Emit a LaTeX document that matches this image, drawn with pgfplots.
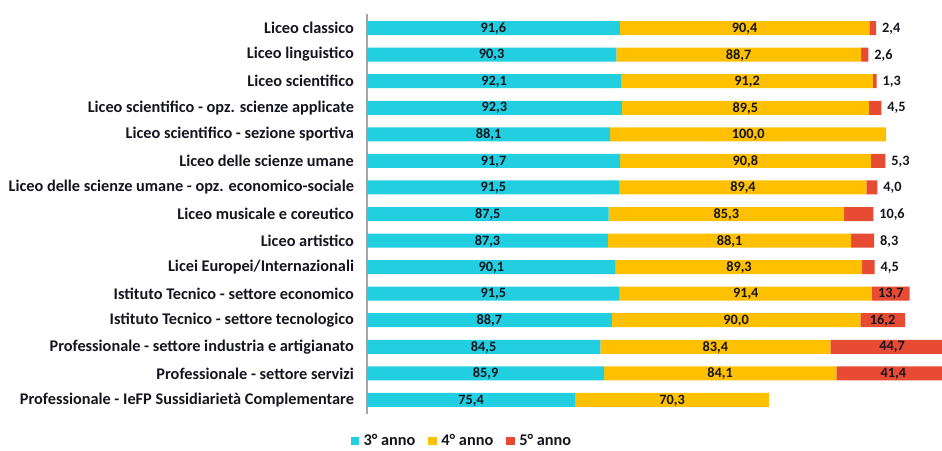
\documentclass[border=0pt]{standalone}
\usepackage{pgfplots}
\usepackage{pgfplotstable}
\pgfplotsset{compat=1.18}
\usepackage{fontspec}
\setmainfont{Carlito}
\definecolor{c3}{HTML}{22CFE0}
\definecolor{c4}{HTML}{FFC000}
\definecolor{c5}{HTML}{E84B34}
\definecolor{txt}{HTML}{151520}
\definecolor{axg}{HTML}{A6A6A6}
\pgfplotstableread{
idx a b c
0 91.6 90.4 2.4
1 90.3 88.7 2.6
2 92.1 91.2 1.3
3 92.3 89.5 4.5
4 88.1 100.0 0
5 91.7 90.8 5.3
6 91.5 89.4 4.0
7 87.5 85.3 10.6
8 87.3 88.1 8.3
9 90.1 89.3 4.5
10 91.5 91.4 13.7
11 88.7 90.0 16.2
12 84.5 83.4 44.7
13 85.9 84.1 41.4
14 75.4 70.3 0
}\datatable
\newcommand{\ff}{\bfseries\fontsize{16.3}{19}\selectfont}
\newcommand{\fv}{\bfseries\fontsize{14.3}{17}\selectfont}
\begin{document}
\begin{tikzpicture}
\pgfplotsset{
  base/.style={
    scale only axis, width=575pt, height=400pt,
    xmin=0, xmax=208.3, ymin=-0.53, ymax=14.53, y dir=reverse,
  },
}
\begin{axis}[base, name=main,
  xbar stacked, bar width=14pt,
  axis x line=none, axis y line*=left,
  axis line style={draw=axg, line width=1.3pt, -},
  ytick={0,...,14}, major tick length=0pt, ytick style={draw=none},
  yticklabels={Liceo classico, Liceo linguistico, Liceo scientifico,
    Liceo scientifico - opz. scienze applicate,
    Liceo scientifico - sezione sportiva,
    Liceo delle scienze umane,
    Liceo delle scienze umane - opz. economico-sociale,
    Liceo musicale e coreutico, Liceo artistico,
    Licei Europei/Internazionali,
    Istituto Tecnico - settore economico,
    Istituto Tecnico - settore tecnologico,
    Professionale - settore industria e artigianato,
    Professionale - settore servizi,
    Professionale - IeFP Sussidiarietà Complementare},
  yticklabel style={font=\ff, text=txt, xshift=-9.5pt},
  legend style={draw=none, fill=none, font=\ff, text=txt,
    legend columns=3, at={(0.165,-0.0675)}, anchor=center,
    /tikz/every odd column/.append style={column sep=2.5pt},
    /tikz/every even column/.append style={column sep=11pt}},
  legend image code/.code={\fill[#1] (0pt,-3.5pt) rectangle (8.5pt,4.5pt);},
]
\addplot[fill=c3, draw=none] table[x=a, y=idx] {\datatable};
\addplot[fill=c4, draw=none] table[x=b, y=idx] {\datatable};
\addplot[fill=c5, draw=none] table[x=c, y=idx] {\datatable};
\legend{3° anno, 4° anno, 5° anno}
\end{axis}
\begin{axis}[base, hide axis, clip=false,
  /pgf/number format/.cd, fixed, fixed zerofill, precision=1, use comma, assume math mode=true, /pgfplots/.cd,
  every node near coord/.append style={font=\fv, text=txt, yshift=-0.5pt},
]
\addplot[draw=none, mark=none, nodes near coords, nodes near coords align=center,
  point meta=\thisrow{a}] table[x expr=\thisrow{a}/2, y=idx] {\datatable};
\addplot[draw=none, mark=none, nodes near coords, nodes near coords align=center,
  point meta=\thisrow{b}] table[x expr=\thisrow{a}+\thisrow{b}/2, y=idx] {\datatable};
\addplot[draw=none, mark=none, nodes near coords, nodes near coords align=center,
  restrict expr to domain={\thisrow{c}}{12:100},
  point meta=\thisrow{c}] table[x expr=\thisrow{a}+\thisrow{b}+\thisrow{c}/2, y=idx] {\datatable};
\addplot[draw=none, mark=none, nodes near coords, nodes near coords align=horizontal,
  restrict expr to domain={\thisrow{c}}{0.5:12},
  every node near coord/.append style={xshift=2.5pt},
  point meta=\thisrow{c}] table[x expr=\thisrow{a}+\thisrow{b}+\thisrow{c}, y=idx] {\datatable};
\end{axis}
\pgfresetboundingbox
\path ([xshift=-367pt,yshift=-36pt]main.south west) rectangle ++(942pt,450pt);
\end{tikzpicture}
\end{document}
